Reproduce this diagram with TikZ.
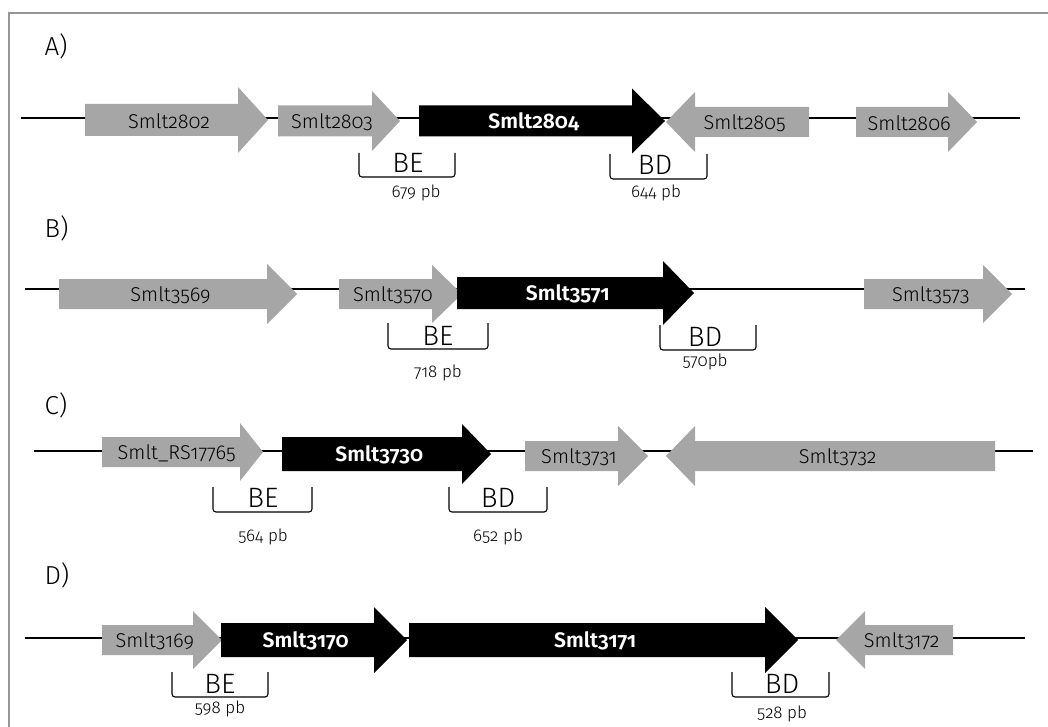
\documentclass[tikz,border=0pt]{standalone}
\usepackage{fontspec}
\setmainfont{Fira Sans Light}[Numbers=OldStyle,BoldFont=Fira Sans SemiBold]
\definecolor{genegray}{RGB}{166,166,166}
\definecolor{framegray}{RGB}{150,150,150}

% gene arrow: style, name, start x, head base x, tip x, centre y, half body, half head, label
\newcommand{\gene}[9]{%
  \fill[#1] (#3,#6-#7) -- (#4,#6-#7) -- (#4,#6-#8) -- (#5,#6) -- (#4,#6+#8) -- (#4,#6+#7) -- (#3,#6+#7) -- cycle;
  \node[#1 text] (#2) at ({(2*#3+#4+#5)/4},#6+1) {#9};}

\tikzset{
  ggene/.style={fill=genegray},
  ggene text/.style={font=\fontsize{20}{20}\selectfont},
  bgene/.style={fill=black},
  bgene text/.style={font=\bfseries\fontsize{21}{21}\selectfont,text=white},
  dna/.style={line width=1.3pt},
  site/.style={line width=1.1pt,rounded corners=3pt},
  site text/.style={font=\fontsize{28}{28}\selectfont,anchor=base,inner sep=0pt},
  size text/.style={font=\fontsize{17}{17}\selectfont},
  panel/.style={font=\fontsize{26}{26}\selectfont,anchor=west},
}

\begin{document}
\begin{tikzpicture}[x=1pt,y=-1pt]
  \useasboundingbox (0,0) rectangle (1048,727);
  \draw[framegray,line width=1.5pt] (9,727) -- (9,13) -- (1048,13);

  % A)
  \node[panel] (pa) at (41,46) {A)};
  \coordinate (a0) at (21,118);
  \coordinate (a1) at (1020,118);
  \draw[dna] (a0) -- (a1);
  \gene{ggene}{g2802}{85}{238}{268}{120}{16}{33}{Smlt2802}
  \gene{ggene}{g2803}{278}{372}{400}{121}{15.5}{30}{Smlt2803}
  \gene{bgene}{g2804}{419}{632}{665}{121}{15.5}{32.5}{Smlt2804}
  \gene{ggene}{g2805}{809}{695}{666}{122}{15}{30}{Smlt2805}
  \gene{ggene}{g2806}{856}{948}{977}{122}{15}{30}{Smlt2806}
  \draw[site] (359,153) -- (359,177) -- (455,177) -- (455,153);
  \node[site text] (abe) at (408,173) {BE};
  \node[size text] (abes) at (416,193) {679 pb};
  \draw[site] (610,154) -- (610,179) -- (707,179) -- (707,154);
  \node[site text] (abd) at (655,175) {BD};
  \node[size text] (abds) at (656,193) {644 pb};

  % B)
  \node[panel] (pb) at (41,228) {B)};
  \coordinate (b0) at (25,289);
  \coordinate (b1) at (1025,289);
  \draw[dna] (b0) -- (b1);
  \gene{ggene}{g3569}{59}{267}{297}{294}{15}{30}{Smlt3569}
  \gene{ggene}{g3570}{339}{432}{462}{294}{15}{29}{Smlt3570}
  \gene{bgene}{g3571}{457}{663}{694}{293}{16}{32}{Smlt3571}
  \gene{ggene}{g3573}{864}{983}{1012}{294}{15}{29}{Smlt3573}
  \draw[site] (388,323) -- (388,349) -- (488,349) -- (488,323);
  \node[site text] (bbe) at (438,345) {BE};
  \node[size text] (bbes) at (438,373) {718 pb};
  \draw[site] (660,325) -- (660,350) -- (756,350) -- (756,325);
  \node[site text] (bbd) at (705,346) {BD};
  \node[size text] (bbds) at (705,362) {570pb};

  % C)
  \node[panel] (pc) at (41,405) {C)};
  \coordinate (c0) at (34,451);
  \coordinate (c1) at (1033,451);
  \draw[dna] (c0) -- (c1);
  \gene{ggene}{g17765}{102}{240}{263}{452}{15}{29}{Smlt\_RS17765}
  \gene{bgene}{g3730}{282}{462}{491}{454}{17}{30}{Smlt3730}
  \gene{ggene}{g3731}{525}{618}{648}{456}{15}{30}{Smlt3731}
  \gene{ggene}{g3732}{995}{695}{666}{456}{15}{30}{Smlt3732}
  \draw[site] (213,487) -- (213,512) -- (312,512) -- (312,487);
  \node[site text] (cbe) at (263,507) {BE};
  \node[size text] (cbes) at (263,537) {564 pb};
  \draw[site] (449,487) -- (449,512) -- (547,512) -- (547,487);
  \node[site text] (cbd) at (498,507) {BD};
  \node[size text] (cbds) at (498,537) {652 pb};

  % D)
  \node[panel] (pd) at (41,575) {D)};
  \coordinate (d0) at (25,638);
  \coordinate (d1) at (1025,638);
  \draw[dna] (d0) -- (d1);
  \gene{ggene}{g3169}{102}{193}{222}{640}{15}{29}{Smlt3169}
  \gene{bgene}{g3170}{221}{374}{407}{640}{17}{33}{Smlt3170}
  \gene{bgene}{g3171}{409}{765}{798}{640}{17}{33}{Smlt3171}
  \gene{ggene}{g3172}{953}{865}{836}{640}{15}{29}{Smlt3172}
  \draw[site] (172,672) -- (172,697) -- (268,697) -- (268,672);
  \node[site text] (dbe) at (220,693) {BE};
  \node[size text] (dbes) at (220,709) {598 pb};
  \draw[site] (732,672) -- (732,697) -- (829,697) -- (829,672);
  \node[site text] (dbd) at (782,693) {BD};
  \node[size text] (dbds) at (782,714) {528 pb};
\end{tikzpicture}
\end{document}
